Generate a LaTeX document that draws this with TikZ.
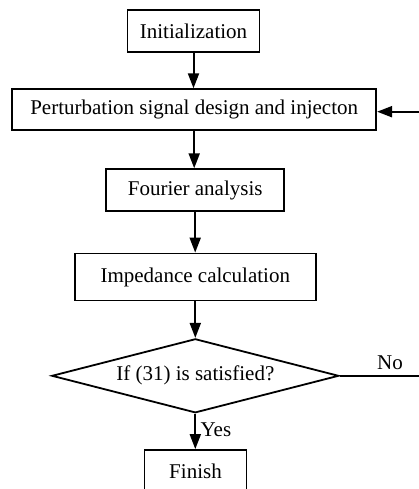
\documentclass[tikz,border=0pt]{standalone}
\usepackage{fontspec}
\setmainfont{Liberation Serif}
\usetikzlibrary{shapes.geometric,arrows.meta}
\begin{document}
\begin{tikzpicture}[x=1pt,y=-1pt,
  every node/.style={font=\fontsize{21}{25}\selectfont},
  stepbox/.style={draw,rectangle,line width=1.8pt,inner sep=0pt},
  decision/.style={draw,diamond,line width=1.8pt,inner sep=0pt,aspect=3.88},
  arr/.style={line width=2pt,-{Triangle[length=15pt,width=11pt]}},
  plain/.style={line width=1.8pt}]
\useasboundingbox (0,0) rectangle (419,489);
\clip (0,0) rectangle (419,489);
\node[stepbox,minimum width=132pt,minimum height=42pt] (init) at (193.5,31) {Initialization};
\node[stepbox,minimum width=364pt,minimum height=41pt] (pert) at (194.2,109.7) {Perturbation signal design and injecton};
\node[stepbox,minimum width=178pt,minimum height=42pt] (four) at (195.2,190.2) {Fourier analysis};
\node[stepbox,minimum width=241pt,minimum height=47pt] (imp) at (195.3,277) {Impedance calculation};
\node[decision,minimum width=287pt,minimum height=74pt] (dec) at (195.3,375.8) {If (31) is satisfied?};
\node[stepbox,minimum width=102pt,minimum height=42pt] (fin) at (195.5,471) {Finish};
\coordinate (noend) at (419,375.8);
\coordinate (fb) at (419,111.7);
\draw[arr] (init.south) -- (init.south |- pert.north);
\draw[arr] (pert.south) -- (pert.south |- four.north);
\draw[arr] (four.south) -- (four.south |- imp.north);
\draw[arr] (imp.south) -- (imp.south |- dec.north);
\draw[arr] (dec.south) -- node[right,xshift=1pt,yshift=2pt] (yes) {Yes} (dec.south |- fin.north);
\draw[plain] (dec.east) -- (noend);
\node (no) at (390,362.7) {No};
\draw[arr] (fb) -- (fb -| pert.east);
\end{tikzpicture}
\end{document}
